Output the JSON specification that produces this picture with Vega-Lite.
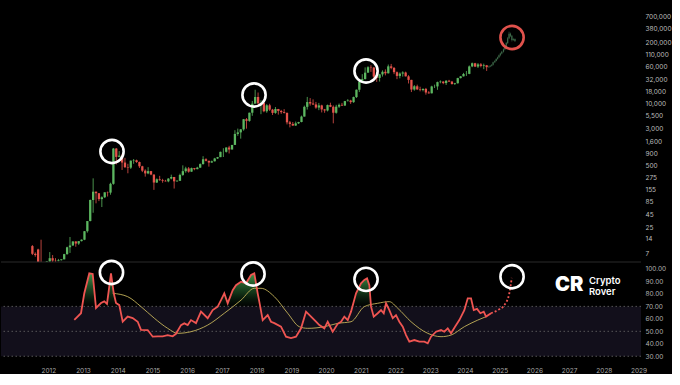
{
  "$schema": "https://vega.github.io/schema/vega-lite/v6.json",
  "background": "#000000",
  "padding": 0,
  "spacing": 0,
  "bounds": "flush",
  "config": {
    "view": {"stroke": null},
    "axis": {"labelFont": "Inter", "labelFontSize": 6.5, "labelColor": "#b4b4b4", "grid": false, "ticks": false, "domain": false, "title": null, "labelOverlap": false}
  },
  "datasets": {
    "candles": [
      {"t":2011.542,"o":9.9,"h":10.4,"l":6.4,"c":6.8},
      {"t":2011.625,"o":6.8,"h":7.3,"l":5.9,"c":6.4},
      {"t":2011.708,"o":8.4,"h":8.7,"l":3.0,"c":3.6},
      {"t":2011.792,"o":3.6,"h":13.5,"l":2.0,"c":3.2},
      {"t":2011.875,"o":3.2,"h":3.5,"l":2.0,"c":3.0},
      {"t":2011.958,"o":3.0,"h":4.8,"l":2.7,"c":4.7},
      {"t":2012.042,"o":4.7,"h":7.4,"l":4.5,"c":5.5},
      {"t":2012.125,"o":5.5,"h":6.4,"l":4.2,"c":4.9},
      {"t":2012.208,"o":4.9,"h":5.5,"l":4.6,"c":4.85},
      {"t":2012.292,"o":4.85,"h":5.3,"l":4.7,"c":5.0},
      {"t":2012.375,"o":5.0,"h":5.2,"l":4.9,"c":5.2},
      {"t":2012.458,"o":5.2,"h":6.8,"l":5.2,"c":6.7},
      {"t":2012.542,"o":6.7,"h":9.6,"l":6.5,"c":9.35},
      {"t":2012.625,"o":9.35,"h":15.4,"l":7.1,"c":10.2},
      {"t":2012.708,"o":10.2,"h":12.5,"l":10.0,"c":12.4},
      {"t":2012.792,"o":12.4,"h":12.5,"l":9.6,"c":11.2},
      {"t":2012.875,"o":11.2,"h":12.6,"l":10.5,"c":12.6},
      {"t":2012.958,"o":12.6,"h":13.7,"l":12.4,"c":13.5},
      {"t":2013.042,"o":13.5,"h":20.6,"l":13.2,"c":20.4},
      {"t":2013.125,"o":20.4,"h":33.5,"l":19.0,"c":33.4},
      {"t":2013.208,"o":33.4,"h":95,"l":33.0,"c":93},
      {"t":2013.292,"o":93,"h":266,"l":50,"c":139},
      {"t":2013.375,"o":139,"h":140,"l":79,"c":129},
      {"t":2013.458,"o":129,"h":130,"l":88,"c":97},
      {"t":2013.542,"o":97,"h":111,"l":66,"c":106},
      {"t":2013.625,"o":106,"h":135,"l":102,"c":135},
      {"t":2013.708,"o":135,"h":140,"l":110,"c":133},
      {"t":2013.792,"o":133,"h":215,"l":120,"c":204},
      {"t":2013.875,"o":204,"h":1163,"l":195,"c":1130},
      {"t":2013.958,"o":1130,"h":1163,"l":522,"c":754},
      {"t":2014.042,"o":754,"h":1000,"l":740,"c":803},
      {"t":2014.125,"o":803,"h":860,"l":400,"c":573},
      {"t":2014.208,"o":573,"h":720,"l":440,"c":458},
      {"t":2014.292,"o":458,"h":540,"l":340,"c":447},
      {"t":2014.375,"o":447,"h":633,"l":420,"c":628},
      {"t":2014.458,"o":628,"h":680,"l":540,"c":640},
      {"t":2014.542,"o":640,"h":660,"l":565,"c":587},
      {"t":2014.625,"o":587,"h":600,"l":440,"c":478},
      {"t":2014.708,"o":478,"h":490,"l":360,"c":386},
      {"t":2014.792,"o":386,"h":412,"l":289,"c":338},
      {"t":2014.875,"o":338,"h":457,"l":325,"c":378},
      {"t":2014.958,"o":378,"h":382,"l":310,"c":320},
      {"t":2015.042,"o":320,"h":320,"l":152,"c":217},
      {"t":2015.125,"o":217,"h":265,"l":212,"c":254},
      {"t":2015.208,"o":254,"h":300,"l":236,"c":244},
      {"t":2015.292,"o":244,"h":260,"l":215,"c":236},
      {"t":2015.375,"o":236,"h":247,"l":228,"c":230},
      {"t":2015.458,"o":230,"h":268,"l":220,"c":263},
      {"t":2015.542,"o":263,"h":318,"l":253,"c":284},
      {"t":2015.625,"o":284,"h":285,"l":162,"c":230},
      {"t":2015.708,"o":230,"h":245,"l":225,"c":236},
      {"t":2015.792,"o":236,"h":334,"l":236,"c":314},
      {"t":2015.875,"o":314,"h":500,"l":300,"c":377},
      {"t":2015.958,"o":377,"h":467,"l":350,"c":430},
      {"t":2016.042,"o":430,"h":460,"l":350,"c":368},
      {"t":2016.125,"o":368,"h":448,"l":365,"c":437},
      {"t":2016.208,"o":437,"h":440,"l":394,"c":416},
      {"t":2016.292,"o":416,"h":466,"l":413,"c":448},
      {"t":2016.375,"o":448,"h":550,"l":440,"c":531},
      {"t":2016.458,"o":531,"h":780,"l":520,"c":673},
      {"t":2016.542,"o":673,"h":705,"l":605,"c":624},
      {"t":2016.625,"o":624,"h":626,"l":470,"c":573},
      {"t":2016.708,"o":573,"h":630,"l":568,"c":609},
      {"t":2016.792,"o":609,"h":720,"l":604,"c":698},
      {"t":2016.875,"o":698,"h":753,"l":680,"c":745},
      {"t":2016.958,"o":745,"h":975,"l":745,"c":963},
      {"t":2017.042,"o":963,"h":1150,"l":750,"c":965},
      {"t":2017.125,"o":965,"h":1200,"l":930,"c":1190},
      {"t":2017.208,"o":1190,"h":1290,"l":890,"c":1080},
      {"t":2017.292,"o":1080,"h":1350,"l":1080,"c":1348},
      {"t":2017.375,"o":1348,"h":2760,"l":1348,"c":2300},
      {"t":2017.458,"o":2300,"h":2980,"l":2100,"c":2480},
      {"t":2017.542,"o":2480,"h":2920,"l":1830,"c":2875},
      {"t":2017.625,"o":2875,"h":4760,"l":2690,"c":4700},
      {"t":2017.708,"o":4700,"h":4970,"l":2970,"c":4340},
      {"t":2017.792,"o":4340,"h":6470,"l":4160,"c":6450},
      {"t":2017.875,"o":6450,"h":11400,"l":5550,"c":10000},
      {"t":2017.958,"o":10000,"h":19700,"l":10700,"c":13850},
      {"t":2018.042,"o":13850,"h":17200,"l":9400,"c":10220},
      {"t":2018.125,"o":10220,"h":11800,"l":6000,"c":10330},
      {"t":2018.208,"o":10330,"h":11700,"l":6600,"c":6920},
      {"t":2018.292,"o":6920,"h":9760,"l":6430,"c":9240},
      {"t":2018.375,"o":9240,"h":9960,"l":7030,"c":7490},
      {"t":2018.458,"o":7490,"h":7760,"l":5780,"c":6390},
      {"t":2018.542,"o":6390,"h":8500,"l":6120,"c":7730},
      {"t":2018.625,"o":7730,"h":7760,"l":5880,"c":7030},
      {"t":2018.708,"o":7030,"h":7400,"l":6100,"c":6630},
      {"t":2018.792,"o":6630,"h":7680,"l":6200,"c":6370},
      {"t":2018.875,"o":6370,"h":6580,"l":3650,"c":4040},
      {"t":2018.958,"o":4040,"h":4310,"l":3160,"c":3740},
      {"t":2019.042,"o":3740,"h":4110,"l":3400,"c":3460},
      {"t":2019.125,"o":3460,"h":4200,"l":3400,"c":3850},
      {"t":2019.208,"o":3850,"h":4140,"l":3730,"c":4100},
      {"t":2019.292,"o":4100,"h":5600,"l":4050,"c":5350},
      {"t":2019.375,"o":5350,"h":9100,"l":5330,"c":8580},
      {"t":2019.458,"o":8580,"h":13880,"l":7520,"c":10820},
      {"t":2019.542,"o":10820,"h":13130,"l":9100,"c":10090},
      {"t":2019.625,"o":10090,"h":12330,"l":9400,"c":9630},
      {"t":2019.708,"o":9630,"h":10900,"l":7800,"c":8290},
      {"t":2019.792,"o":8290,"h":10370,"l":7300,"c":9200},
      {"t":2019.875,"o":9200,"h":9500,"l":6540,"c":7570},
      {"t":2019.958,"o":7570,"h":7750,"l":6430,"c":7190},
      {"t":2020.042,"o":7190,"h":9580,"l":6870,"c":9350},
      {"t":2020.125,"o":9350,"h":10500,"l":8460,"c":8600},
      {"t":2020.208,"o":8600,"h":9180,"l":3850,"c":6440},
      {"t":2020.292,"o":6440,"h":9460,"l":6150,"c":8650},
      {"t":2020.375,"o":8650,"h":10080,"l":8110,"c":9460},
      {"t":2020.458,"o":9460,"h":10400,"l":8930,"c":9140},
      {"t":2020.542,"o":9140,"h":11440,"l":8970,"c":11350},
      {"t":2020.625,"o":11350,"h":12470,"l":11120,"c":11660},
      {"t":2020.708,"o":11660,"h":12070,"l":9890,"c":10780},
      {"t":2020.792,"o":10780,"h":14100,"l":10400,"c":13800},
      {"t":2020.875,"o":13800,"h":19900,"l":13200,"c":19700},
      {"t":2020.958,"o":19700,"h":29300,"l":17600,"c":28950},
      {"t":2021.042,"o":28950,"h":41950,"l":28130,"c":33100},
      {"t":2021.125,"o":33100,"h":58350,"l":32300,"c":45140},
      {"t":2021.208,"o":45140,"h":61780,"l":45000,"c":58800},
      {"t":2021.292,"o":58800,"h":64850,"l":47000,"c":57700},
      {"t":2021.375,"o":57700,"h":59500,"l":30000,"c":37300},
      {"t":2021.458,"o":37300,"h":41300,"l":28800,"c":35000},
      {"t":2021.542,"o":35000,"h":42400,"l":29300,"c":41460},
      {"t":2021.625,"o":41460,"h":50500,"l":37330,"c":47100},
      {"t":2021.708,"o":47100,"h":52900,"l":39600,"c":43800},
      {"t":2021.792,"o":43800,"h":67000,"l":43300,"c":61300},
      {"t":2021.875,"o":61300,"h":69000,"l":53300,"c":57000},
      {"t":2021.958,"o":57000,"h":59000,"l":42000,"c":46200},
      {"t":2022.042,"o":46200,"h":47900,"l":32900,"c":38500},
      {"t":2022.125,"o":38500,"h":45800,"l":34300,"c":43200},
      {"t":2022.208,"o":43200,"h":48200,"l":37200,"c":45500},
      {"t":2022.292,"o":45500,"h":47400,"l":37600,"c":37700},
      {"t":2022.375,"o":37700,"h":40000,"l":26700,"c":31800},
      {"t":2022.458,"o":31800,"h":31900,"l":17600,"c":19900},
      {"t":2022.542,"o":19900,"h":24700,"l":18800,"c":23300},
      {"t":2022.625,"o":23300,"h":25200,"l":19600,"c":20000},
      {"t":2022.708,"o":20000,"h":22800,"l":18200,"c":19400},
      {"t":2022.792,"o":19400,"h":21000,"l":18200,"c":20500},
      {"t":2022.875,"o":20500,"h":21500,"l":15500,"c":17200},
      {"t":2022.958,"o":17200,"h":18400,"l":16300,"c":16550},
      {"t":2023.042,"o":16550,"h":23900,"l":16500,"c":23100},
      {"t":2023.125,"o":23100,"h":25250,"l":21400,"c":23150},
      {"t":2023.208,"o":23150,"h":29200,"l":19600,"c":28500},
      {"t":2023.292,"o":28500,"h":31000,"l":26900,"c":29250},
      {"t":2023.375,"o":29250,"h":29800,"l":25800,"c":27200},
      {"t":2023.458,"o":27200,"h":31400,"l":24800,"c":30480},
      {"t":2023.542,"o":30480,"h":31800,"l":28900,"c":29230},
      {"t":2023.625,"o":29230,"h":30200,"l":25400,"c":25940},
      {"t":2023.708,"o":25940,"h":27500,"l":24900,"c":26970},
      {"t":2023.792,"o":26970,"h":35200,"l":26550,"c":34650},
      {"t":2023.875,"o":34650,"h":38400,"l":34100,"c":37720},
      {"t":2023.958,"o":37720,"h":44700,"l":37600,"c":42280},
      {"t":2024.042,"o":42280,"h":48970,"l":38500,"c":42580},
      {"t":2024.125,"o":42580,"h":64000,"l":41880,"c":61130},
      {"t":2024.208,"o":61130,"h":73800,"l":59000,"c":71300},
      {"t":2024.292,"o":71300,"h":72800,"l":59200,"c":60640},
      {"t":2024.375,"o":60640,"h":71950,"l":56550,"c":67500},
      {"t":2024.458,"o":67500,"h":71900,"l":58400,"c":62700},
      {"t":2024.542,"o":62700,"h":70000,"l":53500,"c":64600},
      {"t":2024.625,"o":64600,"h":65600,"l":49100,"c":58970}
    ],
    "ghost": [
      {"t":2024.69,"o":58970,"h":64000,"l":57000,"c":61000},
      {"t":2024.73,"o":61000,"h":65000,"l":59000,"c":63000},
      {"t":2024.77,"o":63000,"h":68000,"l":61000,"c":66000},
      {"t":2024.81,"o":66000,"h":77000,"l":64000,"c":75000},
      {"t":2024.86,"o":75000,"h":83000,"l":72000,"c":80000},
      {"t":2024.90,"o":80000,"h":91000,"l":78000,"c":88000},
      {"t":2024.94,"o":88000,"h":98000,"l":85000,"c":95000},
      {"t":2024.98,"o":95000,"h":109000,"l":92000,"c":105000},
      {"t":2025.02,"o":105000,"h":119000,"l":100000,"c":115000},
      {"t":2025.06,"o":115000,"h":130000,"l":110000,"c":125000},
      {"t":2025.11,"o":125000,"h":146000,"l":120000,"c":140000},
      {"t":2025.15,"o":140000,"h":168000,"l":134000,"c":160000},
      {"t":2025.19,"o":160000,"h":200000,"l":152000,"c":190000},
      {"t":2025.23,"o":190000,"h":255000,"l":182000,"c":240000},
      {"t":2025.27,"o":240000,"h":330000,"l":230000,"c":300000},
      {"t":2025.31,"o":300000,"h":315000,"l":255000,"c":270000},
      {"t":2025.35,"o":270000,"h":280000,"l":205000,"c":220000},
      {"t":2025.39,"o":220000,"h":245000,"l":210000,"c":232000},
      {"t":2025.44,"o":232000,"h":238000,"l":200000,"c":210000}
    ],
    "rsi": [
      {"t":2012.749,"v":59.1},{"t":2012.942,"v":64.5},{"t":2013.037,"v":80.5},{"t":2013.181,"v":96.5},
      {"t":2013.279,"v":96},{"t":2013.374,"v":68.7},{"t":2013.518,"v":72.7},{"t":2013.613,"v":74},
      {"t":2013.691,"v":72},{"t":2013.806,"v":96.5},{"t":2013.884,"v":80.7},{"t":2013.950,"v":72.7},
      {"t":2014.045,"v":71},{"t":2014.143,"v":57.7},{"t":2014.287,"v":61.8},{"t":2014.431,"v":60.6},
      {"t":2014.575,"v":57.7},{"t":2014.670,"v":51.1},{"t":2014.863,"v":51},{"t":2015.007,"v":45.7},
      {"t":2015.151,"v":46},{"t":2015.295,"v":46},{"t":2015.439,"v":47},{"t":2015.583,"v":46},
      {"t":2015.678,"v":48},{"t":2015.822,"v":55},{"t":2015.917,"v":56.4},{"t":2016.015,"v":55},
      {"t":2016.110,"v":59},{"t":2016.254,"v":56.6},{"t":2016.398,"v":65.8},{"t":2016.591,"v":60.5},
      {"t":2016.735,"v":67},{"t":2016.879,"v":69.8},{"t":2016.974,"v":75},{"t":2017.069,"v":80.5},
      {"t":2017.167,"v":72.5},{"t":2017.311,"v":83},{"t":2017.406,"v":87},{"t":2017.550,"v":89.8},
      {"t":2017.694,"v":88.5},{"t":2017.838,"v":95.2},{"t":2017.933,"v":96.5},{"t":2018.031,"v":80.5},
      {"t":2018.077,"v":73.8},{"t":2018.175,"v":59},{"t":2018.319,"v":63},{"t":2018.414,"v":57.7},
      {"t":2018.510,"v":56.6},{"t":2018.702,"v":53.7},{"t":2018.846,"v":45.7},{"t":2018.990,"v":44.6},
      {"t":2019.134,"v":45.7},{"t":2019.279,"v":52.4},{"t":2019.423,"v":65.8},{"t":2019.567,"v":61.8},
      {"t":2019.711,"v":57.7},{"t":2019.806,"v":55},{"t":2019.950,"v":52.4},{"t":2020.047,"v":57.7},
      {"t":2020.191,"v":49.7},{"t":2020.335,"v":56},{"t":2020.431,"v":57.7},{"t":2020.526,"v":61.8},
      {"t":2020.624,"v":59},{"t":2020.719,"v":65.8},{"t":2020.863,"v":80.5},{"t":2021.007,"v":88.5},
      {"t":2021.102,"v":91.2},{"t":2021.180,"v":92.5},{"t":2021.246,"v":87},{"t":2021.295,"v":69.8},
      {"t":2021.372,"v":61.8},{"t":2021.488,"v":64.5},{"t":2021.583,"v":67},{"t":2021.661,"v":64.5},
      {"t":2021.727,"v":72.5},{"t":2021.822,"v":67},{"t":2021.920,"v":60.5},{"t":2022.015,"v":63},
      {"t":2022.110,"v":57.7},{"t":2022.208,"v":53.7},{"t":2022.303,"v":47},{"t":2022.398,"v":41.7},
      {"t":2022.542,"v":43},{"t":2022.686,"v":41.7},{"t":2022.830,"v":41.7},{"t":2022.928,"v":40.4},
      {"t":2023.023,"v":45.7},{"t":2023.167,"v":49.7},{"t":2023.311,"v":51},{"t":2023.406,"v":49.7},
      {"t":2023.504,"v":52.4},{"t":2023.599,"v":48.4},{"t":2023.714,"v":53.7},{"t":2023.838,"v":59},
      {"t":2023.982,"v":67},{"t":2024.080,"v":76.5},{"t":2024.175,"v":76.5},{"t":2024.253,"v":67},
      {"t":2024.348,"v":68},{"t":2024.443,"v":64.5},{"t":2024.541,"v":65.8},{"t":2024.607,"v":61.8},
      {"t":2024.751,"v":64.5}
    ],
    "proj": [
      {"t":2024.751,"v":64.5},{"t":2024.944,"v":67},{"t":2025.134,"v":71},{"t":2025.278,"v":80.5},{"t":2025.347,"v":92.8}
    ],
    "ma": [
      {"t":2013.855,"v":80.5},{"t":2014.287,"v":77.8},{"t":2014.670,"v":69.8},{"t":2015.053,"v":60.5},
      {"t":2015.439,"v":52.4},{"t":2015.727,"v":48.4},{"t":2016.110,"v":49.7},{"t":2016.591,"v":55},
      {"t":2017.069,"v":64.5},{"t":2017.550,"v":75},{"t":2017.933,"v":84.5},{"t":2018.127,"v":84.5},
      {"t":2018.510,"v":77.8},{"t":2018.895,"v":64.5},{"t":2019.230,"v":53.7},{"t":2019.472,"v":52.4},
      {"t":2019.950,"v":53.7},{"t":2020.335,"v":56.4},{"t":2020.719,"v":57.7},{"t":2021.102,"v":69.8},
      {"t":2021.488,"v":72.5},{"t":2021.822,"v":73.8},{"t":2022.064,"v":68.5},{"t":2022.447,"v":57.7},
      {"t":2022.928,"v":48.4},{"t":2023.311,"v":45.7},{"t":2023.599,"v":47},{"t":2023.982,"v":53.7},
      {"t":2024.368,"v":59},{"t":2024.607,"v":61.8}
    ],
    "peaks": [
      {"t":2012.975,"v":70},{"t":2013.037,"v":80.5},{"t":2013.181,"v":96.5},{"t":2013.279,"v":96},
      {"t":2013.369,"v":70},{"t":2013.421,"v":70},{"t":2013.518,"v":72.7},{"t":2013.613,"v":74},
      {"t":2013.691,"v":72},{"t":2013.806,"v":96.5},{"t":2013.884,"v":80.7},{"t":2013.950,"v":72.7},
      {"t":2014.045,"v":71},{"t":2014.052,"v":70},
      {"t":2016.883,"v":70},{"t":2016.974,"v":75},{"t":2017.069,"v":80.5},{"t":2017.167,"v":72.5},
      {"t":2017.311,"v":83},{"t":2017.406,"v":87},{"t":2017.550,"v":89.8},{"t":2017.694,"v":88.5},
      {"t":2017.838,"v":95.2},{"t":2017.933,"v":96.5},{"t":2018.031,"v":80.5},{"t":2018.077,"v":73.8},
      {"t":2018.102,"v":70},
      {"t":2020.760,"v":70},{"t":2020.863,"v":80.5},{"t":2021.007,"v":88.5},{"t":2021.102,"v":91.2},
      {"t":2021.180,"v":92.5},{"t":2021.246,"v":87},{"t":2021.294,"v":70},
      {"t":2021.706,"v":70},{"t":2021.727,"v":72.5},{"t":2021.770,"v":70},
      {"t":2024.013,"v":70},{"t":2024.080,"v":76.5},{"t":2024.175,"v":76.5},{"t":2024.228,"v":70}
    ]
  },
  "vconcat": [
    {
      "width": 640,
      "height": 262,
      "layer": [
        {
          "data": {"name": "candles"},
          "mark": {"type": "rule", "strokeWidth": 0.8, "clip": true},
          "encoding": {
            "x": {"field": "t", "type": "quantitative", "scale": {"domain": [2010.638, 2029.07], "nice": false, "zero": false}, "axis": null},
            "y": {"field": "l", "type": "quantitative", "scale": {"type": "log", "domain": [4.57, 1540000], "nice": false},
                  "axis": {"orient": "right", "labelPadding": 4, "format": ",d", "labelColor": "#bdbdbd", "labelOverlap": false, "tickCount": 100,
                           "values": [7,14,25,45,85,155,275,500,900,1600,3000,5500,10000,18000,32000,60000,110000,200000,380000,700000]}},
            "y2": {"field": "h"},
            "color": {"condition": {"test": "datum.c >= datum.o", "value": "#5cb660"}, "value": "#e5534b"}
          }
        },
        {
          "data": {"name": "candles"},
          "mark": {"type": "rule", "strokeWidth": 2.3, "clip": true},
          "encoding": {
            "x": {"field": "t", "type": "quantitative"},
            "y": {"field": "o", "type": "quantitative"},
            "y2": {"field": "c"},
            "color": {"condition": {"test": "datum.c >= datum.o", "value": "#5cb660"}, "value": "#e5534b"}
          }
        },
        {
          "data": {"name": "ghost"},
          "mark": {"type": "rule", "strokeWidth": 0.7, "color": "#35573f", "clip": true},
          "encoding": {
            "x": {"field": "t", "type": "quantitative"},
            "y": {"field": "l", "type": "quantitative"},
            "y2": {"field": "h"}
          }
        },
        {
          "data": {"name": "ghost"},
          "mark": {"type": "rule", "strokeWidth": 1.2, "color": "#3d6a49", "clip": true},
          "encoding": {
            "x": {"field": "t", "type": "quantitative"},
            "y": {"field": "o", "type": "quantitative"},
            "y2": {"field": "c"}
          }
        },
        {
          "data": {"values": [
            {"t": 2013.835, "p": 982, "k": "w"},
            {"t": 2017.925, "p": 15270, "k": "w"},
            {"t": 2021.151, "p": 49000, "k": "w"},
            {"t": 2025.356, "p": 249000, "k": "r"}
          ]},
          "mark": {"type": "point", "shape": "circle", "filled": false, "size": 540, "strokeWidth": 2.6, "opacity": 1},
          "encoding": {
            "x": {"field": "t", "type": "quantitative"},
            "y": {"field": "p", "type": "quantitative"},
            "color": {"condition": {"test": "datum.k == 'r'", "value": "#e0524c"}, "value": "#ffffff"}
          }
        }
      ]
    },
    {
      "width": 640,
      "height": 98,
      "layer": [
        {
          "data": {"values": [{"a": 1}]},
          "mark": {"type": "rect", "color": "#120f1b"},
          "encoding": {
            "x": {"datum": 2010.638, "type": "quantitative"},
            "x2": {"datum": 2029.07},
            "y": {"datum": 70, "type": "quantitative"},
            "y2": {"datum": 30}
          }
        },
        {
          "data": {"values": [{"lv": 105.6}]},
          "mark": {"type": "rule", "color": "#2a2a2a", "strokeWidth": 1},
          "encoding": {"y": {"field": "lv", "type": "quantitative"}}
        },
        {
          "data": {"values": [{"lv": 70}, {"lv": 50}, {"lv": 30}]},
          "mark": {"type": "rule", "color": "#6a6a6a", "strokeWidth": 0.8, "strokeDash": [1.5, 2.5]},
          "encoding": {"y": {"field": "lv", "type": "quantitative"}}
        },
        {
          "data": {"name": "peaks"},
          "mark": {"type": "area", "interpolate": "linear",
                   "color": {"gradient": "linear", "x1": 0, "y1": 0, "x2": 0, "y2": 1,
                             "stops": [{"offset": 0, "color": "rgba(70,160,80,0.95)"}, {"offset": 0.6, "color": "rgba(40,110,50,0.45)"}, {"offset": 1, "color": "rgba(20,60,30,0.05)"}]}},
          "encoding": {
            "x": {"field": "t", "type": "quantitative"},
            "y": {"field": "v", "type": "quantitative"},
            "y2": {"datum": 70}
          }
        },
        {
          "data": {"name": "ma"},
          "mark": {"type": "line", "color": "#c4b25a", "strokeWidth": 0.9, "interpolate": "monotone"},
          "encoding": {
            "x": {"field": "t", "type": "quantitative"},
            "y": {"field": "v", "type": "quantitative"}
          }
        },
        {
          "data": {"name": "rsi"},
          "mark": {"type": "line", "color": "#ef5552", "strokeWidth": 1.8},
          "encoding": {
            "x": {"field": "t", "type": "quantitative", "scale": {"domain": [2010.638, 2029.07], "nice": false, "zero": false},
                  "axis": {"values": [2012,2013,2014,2015,2016,2017,2018,2019,2020,2021,2022,2023,2024,2025,2026,2027,2028,2029],
                           "format": "d", "labelPadding": 7, "labelColor": "#a8a8a8", "labelOverlap": false, "labelFlush": false, "labelBound": false, "tickCount": 100}},
            "y": {"field": "v", "type": "quantitative", "scale": {"domain": [27, 105.6], "nice": false, "zero": false},
                  "axis": {"orient": "right", "labelPadding": 4, "format": ".2f", "values": [30,40,50,60,70,80,90,100], "labelColor": "#b0b0b0", "labelOverlap": false, "labelFlush": false, "tickCount": 100}}
          }
        },
        {
          "data": {"name": "proj"},
          "mark": {"type": "line", "color": "#ef5552", "strokeWidth": 1.8, "strokeDash": [2, 2], "interpolate": "monotone"},
          "encoding": {
            "x": {"field": "t", "type": "quantitative"},
            "y": {"field": "v", "type": "quantitative"}
          }
        },
        {
          "data": {"values": [
            {"t": 2013.82, "v": 97.2},
            {"t": 2017.896, "v": 96},
            {"t": 2021.151, "v": 91.7},
            {"t": 2025.356, "v": 93.8}
          ]},
          "mark": {"type": "point", "shape": "circle", "filled": false, "size": 540, "strokeWidth": 2.6, "color": "#ffffff", "opacity": 1},
          "encoding": {
            "x": {"field": "t", "type": "quantitative"},
            "y": {"field": "v", "type": "quantitative"}
          }
        },
        {
          "data": {"values": [{"t": 2027.0, "v": 87.2, "s": "CR"}]},
          "mark": {"type": "text", "font": "Inter", "fontSize": 20, "fontWeight": 900, "color": "#ffffff", "align": "center", "baseline": "middle", "letterSpacing": -1},
          "encoding": {
            "x": {"field": "t", "type": "quantitative"},
            "y": {"field": "v", "type": "quantitative"},
            "text": {"field": "s"}
          }
        },
        {
          "data": {"values": [{"t": 2027.573, "v": 90.4, "s": "Crypto"}, {"t": 2027.573, "v": 81.6, "s": "Rover"}]},
          "mark": {"type": "text", "font": "Inter", "fontSize": 9.5, "fontWeight": 600, "color": "#ffffff", "align": "left", "baseline": "middle"},
          "encoding": {
            "x": {"field": "t", "type": "quantitative"},
            "y": {"field": "v", "type": "quantitative"},
            "text": {"field": "s"}
          }
        }
      ]
    }
  ]
}
